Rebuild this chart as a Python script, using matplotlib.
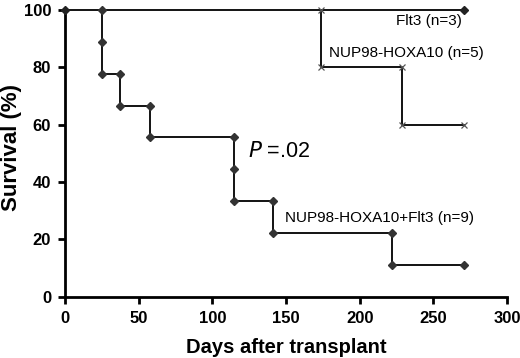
import numpy as np
import matplotlib.pyplot as plt

plt.rcParams['font.family'] = ['Liberation Sans', 'DejaVu Sans']

# Kaplan-Meier step data (days, survival %)
combo_days = [25, 25, 25, 37, 37, 58, 58, 115, 115, 115, 141, 141, 222, 222, 271]
combo_surv = [100, 88.9, 77.8, 77.8, 66.7, 66.7, 55.6, 55.6, 44.4, 33.3, 33.3, 22.2, 22.2, 11.1, 11.1]

nup_days = [174, 174, 229, 229, 271]
nup_surv = [100, 80, 80, 60, 60]

flt3_days = [0, 271]
flt3_surv = [100, 100]

fig = plt.figure(figsize=(5.2, 3.58), dpi=100)
ax = fig.add_axes([0.125, 0.171, 0.85, 0.801])

# Flt3 line
ax.plot(flt3_days, flt3_surv, color='black', linewidth=1.3, marker='D',
        markersize=4, markerfacecolor='#222222', markeredgecolor='#222222',
        zorder=3, clip_on=False)
# NUP98-HOXA10+Flt3
ax.plot(combo_days, combo_surv, color='black', linewidth=1.3, marker='D',
        markersize=4, markerfacecolor='#333333', markeredgecolor='#333333',
        zorder=3, clip_on=False)
# NUP98-HOXA10
ax.plot(nup_days, nup_surv, color='black', linewidth=1.3, marker='x',
        markersize=4, markeredgecolor='#555555', markeredgewidth=0.9,
        zorder=3, clip_on=False)

ax.text(225, 96.3, 'Flt3 (n=3)', fontsize=11, ha='left', va='center')
ax.text(179, 85, 'NUP98-HOXA10 (n=5)', fontsize=11, ha='left', va='center')
ax.text(149, 27.6, 'NUP98-HOXA10+Flt3 (n=9)', fontsize=11, ha='left', va='center')
ax.text(124, 50.5, r'$\it{P}$ =.02', fontsize=15.5, ha='left', va='center')

ax.set_xlim(0, 300)
ax.set_ylim(0, 100)
ax.set_xticks(np.arange(0, 301, 50))
ax.set_yticks(np.arange(0, 101, 20))

for s in ['top', 'right']:
    ax.spines[s].set_visible(False)
for s in ['left', 'bottom']:
    ax.spines[s].set_linewidth(2)
ax.tick_params(direction='out', length=5, width=2, labelsize=12, pad=5)
for lab in ax.get_xticklabels() + ax.get_yticklabels():
    lab.set_fontweight('bold')

ax.set_xlabel('Days after transplant', fontsize=14.5, fontweight='bold', labelpad=9)
ax.set_ylabel('Survival (%)', fontsize=16, fontweight='bold')
ax.yaxis.set_label_coords(-0.097, 0.52)

fig.savefig('out.png', dpi=100)
